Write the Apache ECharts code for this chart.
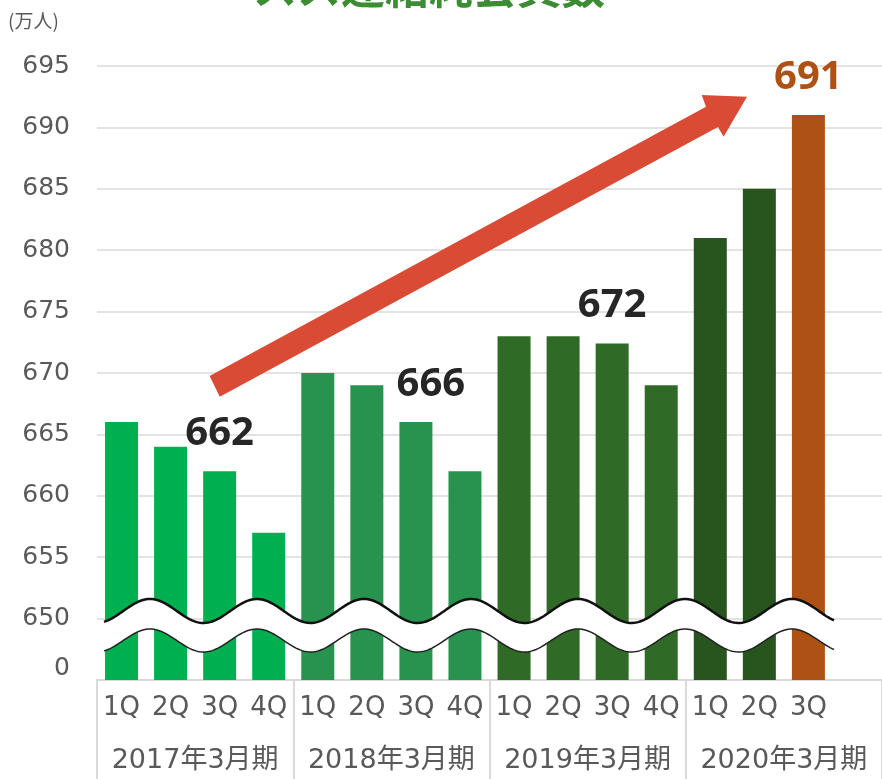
<!DOCTYPE html>
<html>
<head>
<meta charset="utf-8">
<script src="https://cdn.jsdelivr.net/npm/echarts@6/dist/echarts.min.js"></script>
<style>
  html, body { margin: 0; padding: 0; background: #fff; }
  #chart { width: 882px; height: 779px; }
</style>
</head>
<body>
<div id="chart"></div>
<script>
// データ
const quarters = ['1Q', '2Q', '3Q', '4Q', '1Q', '2Q', '3Q', '4Q', '1Q', '2Q', '3Q', '4Q', '1Q', '2Q', '3Q', '']
const fiscalYears = ['2017年3月期', '2018年3月期', '2019年3月期', '2020年3月期']
const members = [666, 664, 662, 657, 670, 669, 666, 662, 673, 673, 672.4, 669, 681, 685, 691, null]
const labeledIdx = [2, 6, 10, 14]
const yMin = 645
const yMax = 695
const yStep = 5

// 色
const yearColors = ['#00B050', '#27934E', '#2F6B26', '#28541E']
const latestColor = '#AE5114'
const textColor = '#595959'
const axisFont = '"DejaVu Sans", "Noto Sans CJK JP", sans-serif'

const chart = echarts.init(document.getElementById('chart'))

function barItem(v, i) {
  const isLatest = i === 14
  const item = {
    value: v,
    itemStyle: { color: isLatest ? latestColor : yearColors[Math.floor(i / 4)] }
  }
  if (labeledIdx.includes(i)) {
    item.label = {
      show: true,
      position: 'top',
      distance: 18,
      offset: i === 6 ? [15, 0] : [0, 0],
      formatter: p => Math.round(p.value),
      fontFamily: '"Noto Sans", sans-serif',
      fontWeight: 'bold',
      fontSize: 40,
      color: isLatest ? latestColor : '#262626'
    }
  }
  return item
}

// 波線（省略記号）
function wave(cy, amp, x0, x1) {
  const pts = []
  for (let x = x0; x <= x1; x += 2) {
    pts.push([x, cy - amp * Math.cos(2 * Math.PI * (x - 150) / 107)])
  }
  return pts
}
const upper = wave(611, 12, 104, 834)
const lower = wave(640.5, 11.5, 104, 834)
const band = upper.concat(lower.slice().reverse())

const arrow = [[209.6, 376], [706, 106.7], [701.7, 95], [747, 96.7], [723.6, 136.7], [718, 127], [219.8, 396.7]]

chart.setOption({
  animation: false,
  grid: { left: 97, top: 66, width: 790, height: 614 },
  xAxis: [
    {
      type: 'category',
      data: quarters,
      axisLine: { show: true, lineStyle: { color: '#D9D9D9', width: 2 } },
      axisTick: { show: false },
      axisLabel: { interval: 0, margin: 15, fontSize: 26, color: textColor, fontFamily: axisFont }
    },
    {
      type: 'category',
      data: fiscalYears,
      position: 'bottom',
      axisLine: { show: false },
      axisTick: { show: true, interval: 0, length: 100, lineStyle: { color: '#D9D9D9', width: 2 } },
      axisLabel: { interval: 0, margin: 67, fontSize: 27, color: textColor, fontFamily: axisFont }
    }
  ],
  yAxis: {
    type: 'value',
    min: yMin,
    max: yMax,
    interval: yStep,
    axisLine: { show: false },
    axisTick: { show: false },
    splitLine: { lineStyle: { color: '#E3E3E3', width: 2 } },
    axisLabel: {
      margin: 27,
      fontSize: 25,
      color: textColor,
      fontFamily: axisFont,
      formatter: v => (v === yMin ? '{z|0}' : String(v)),
      rich: {
        z: { fontSize: 25, color: textColor, fontFamily: axisFont, padding: [0, 0, 24, 0] }
      }
    }
  },
  series: [
    {
      type: 'bar',
      barWidth: 33,
      data: members.map(barItem)
    }
  ],
  graphic: [
    {
      type: 'text',
      left: 253,
      top: -35,
      z: 100,
      style: {
        text: 'スス連結純会員数',
        fill: '#3C8C34',
        font: 'bold 44px "Noto Sans CJK JP", sans-serif'
      }
    },
    {
      type: 'text',
      left: 8,
      top: 11,
      z: 100,
      style: {
        text: '(万人)',
        fill: textColor,
        font: '19px "Noto Sans CJK JP", sans-serif'
      }
    },
    {
      type: 'polygon',
      z: 100,
      shape: { points: band },
      style: { fill: '#fff', stroke: null }
    },
    {
      type: 'polyline',
      z: 101,
      shape: { points: upper },
      style: { stroke: '#111', lineWidth: 2.5, fill: null }
    },
    {
      type: 'polyline',
      z: 101,
      shape: { points: lower },
      style: { stroke: '#222', lineWidth: 1.5, fill: null }
    },
    {
      type: 'polygon',
      z: 102,
      shape: { points: arrow },
      style: { fill: '#D94B35' }
    }
  ]
})
</script>
</body>
</html>
